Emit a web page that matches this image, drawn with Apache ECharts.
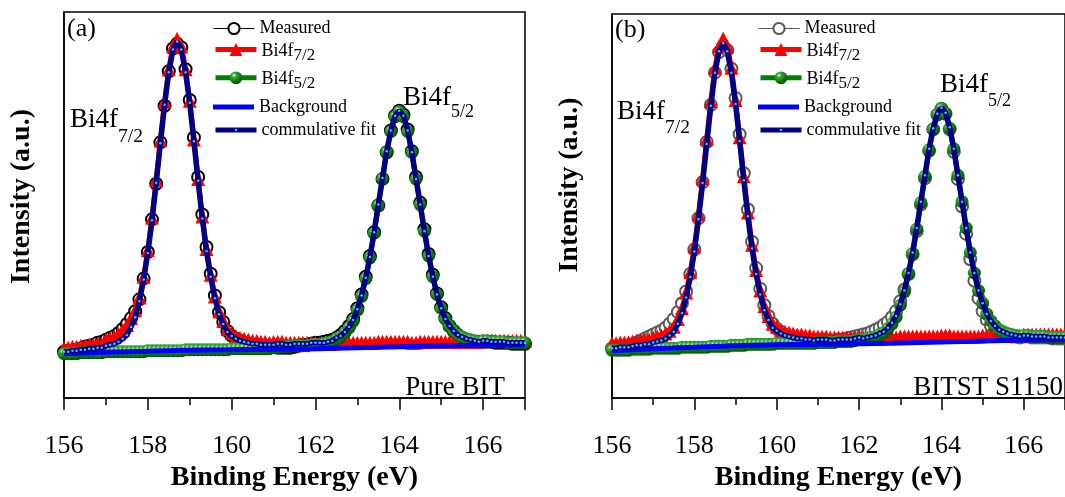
<!DOCTYPE html>
<html><head><meta charset="utf-8">
<script src="https://cdn.jsdelivr.net/npm/echarts@6/dist/echarts.min.js"></script>
<style>html,body{margin:0;padding:0;background:#fff}#c{width:1065px;height:497px}</style>
</head><body><div id="c"></div>
<script>
// ---------------- data ----------------
const energy = [156,156.1,156.2,156.3,156.4,156.5,156.6,156.7,156.8,156.9,
157,157.1,157.2,157.3,157.4,157.5,157.6,157.7,157.8,157.9,
158,158.1,158.2,158.3,158.4,158.5,158.6,158.7,158.8,158.9,
159,159.1,159.2,159.3,159.4,159.5,159.6,159.7,159.8,159.9,
160,160.1,160.2,160.3,160.4,160.5,160.6,160.7,160.8,160.9,
161,161.1,161.2,161.3,161.4,161.5,161.6,161.7,161.8,161.9,
162,162.1,162.2,162.3,162.4,162.5,162.6,162.7,162.8,162.9,
163,163.1,163.2,163.3,163.4,163.5,163.6,163.7,163.8,163.9,
164,164.1,164.2,164.3,164.4,164.5,164.6,164.7,164.8,164.9,
165,165.1,165.2,165.3,165.4,165.5,165.6,165.7,165.8,165.9,
166,166.1,166.2,166.3,166.4,166.5,166.6,166.7,166.8,166.9,167];

// Panel (a) Pure BIT
const measuredA = [47,48,48,49,50,52,53,54,56,57,
59,61,63,66,70,75,81,88,100,121,
148,181,217,259,296,331,354,359,355,333,
302,264,224,186,153,126,104,87,77,68,
63,60,58,56,55,54,54,53,53,53,
52,51,51,51,51,52,53,54,54,55,
56,56,57,58,59,61,64,68,73,80,
91,105,123,144,168,195,222,249,271,286,
291,287,272,250,224,198,171,146,125,106,
92,81,73,68,64,61,59,58,57,57,
57,57,57,56,56,56,56,55,55,55,55];
const bi72A = [51,51,52,52,53,53,54,54,55,55,
59,60,62,65,69,74,81,89,102,123,
150,183,221,261,300,333,356,364,356,333,
301,262,222,184,151,125,103,88,78,70,
66,63,61,60,59,58,58,57,57,56,
57,57,57,56,56,56,56,56,56,56,
56,55,55,55,55,56,56,56,56,56,
56,56,56,56,56,57,57,57,57,57,
57,57,57,56,56,57,57,57,57,57,
57,57,57,57,57,57,57,57,57,57,
58,58,58,58,58,58,58,58,58,58,58];
const bi52A = [45,45,45,45,46,46,46,46,46,46,
47,47,47,47,47,47,47,47,47,47,
48,48,48,48,48,48,48,48,48,49,
49,49,49,49,49,49,49,49,49,49,
50,50,50,50,50,50,50,50,50,50,
51,51,52,52,52,53,53,53,53,54,
54,54,55,56,57,60,62,66,71,78,
89,103,121,142,167,195,222,249,270,285,
290,285,270,249,222,196,169,144,123,105,
91,80,73,68,64,62,60,59,58,57,
58,58,57,57,57,57,56,56,56,56,56];
const fitA = [47,47,48,48,49,49,50,50,51,51,
53,54,55,57,60,64,72,82,98,120,
147,180,218,258,297,330,353,361,353,330,
299,260,220,182,149,123,101,85,75,67,
63,60,58,57,56,55,55,54,54,54,
54,55,55,54,54,55,55,55,55,56,
56,56,56,57,58,61,63,67,72,79,
90,104,122,143,168,196,223,250,271,286,
291,286,271,249,222,196,169,144,123,105,
91,80,73,68,64,62,60,59,58,57,
58,58,57,57,57,57,56,56,56,56,56];
const bgEnergy = [156,157,158,159,160,161,162,163,164,165,166,167];
const backgroundA = [45,46.5,47.5,48.5,49,49.5,50,51,52,53,53.5,54];

// Panel (b) BITST S1150
const measuredB = [51,52,52,53,54,55,57,59,61,63,
65,67,69,72,76,81,88,97,109,127,
152,184,221,262,300,333,354,360,356,337,
307,270,230,193,160,133,112,95,84,76,
71,68,65,63,62,61,60,60,59,59,
59,59,59,59,59,60,60,61,62,63,
64,65,66,68,70,72,75,78,83,89,
99,111,127,147,171,198,225,253,275,290,
296,291,275,252,224,196,168,142,120,102,
89,80,74,70,67,65,64,63,63,62,
63,63,62,62,62,62,62,61,61,61,61];
const bi72B = [56,56,57,57,57,58,59,59,60,60,
62,63,64,66,69,73,81,92,108,129,
155,188,225,265,304,338,360,368,360,338,
305,267,227,190,157,131,110,94,84,76,
73,70,68,67,66,65,65,64,64,63,
63,63,63,62,62,62,62,62,62,62,
63,62,62,62,62,62,62,62,62,62,
63,63,63,63,63,63,63,63,63,63,
64,64,64,63,63,63,63,63,63,63,
64,64,64,64,64,64,64,64,64,64,
65,65,65,65,65,65,65,65,65,65,65];
const bi52B = [49,49,49,49,49,50,50,50,50,50,
51,51,51,51,51,51,51,52,52,52,
52,52,52,52,53,53,53,53,53,54,
54,54,54,55,55,55,55,55,55,55,
56,56,56,56,56,56,56,56,56,56,
57,57,57,57,57,58,58,58,58,59,
60,60,61,62,63,65,67,71,76,83,
95,109,127,148,173,200,227,254,275,290,
296,291,276,255,228,201,174,149,128,110,
97,86,79,74,70,68,66,65,64,63,
64,64,63,63,63,63,62,62,62,62,62];
const fitB = [51,51,52,52,52,53,54,54,55,55,
57,58,59,61,64,68,76,87,103,124,
150,183,220,260,299,333,355,363,355,333,
301,263,223,186,153,127,106,90,80,72,
69,66,64,63,62,61,61,60,60,59,
60,60,60,59,59,60,60,60,60,61,
62,61,62,63,64,66,68,72,77,84,
96,110,128,149,174,201,228,255,276,291,
297,292,277,255,228,201,174,149,128,110,
97,86,79,74,70,68,66,65,64,63,
64,64,63,63,63,63,62,62,62,62,62];
const backgroundB = [48.5,50.5,52,53.5,54.5,55,55.5,56.5,57.5,58.5,59.5,60];

const majorTicks = [156,158,160,162,164,166];
const minorTicks = [157,159,161,163,165];
const seriesNames = ['Measured','Bi4f7/2','Bi4f5/2','Background','commulative fit'];
const sampleLabels = ['Pure BIT','BITST S1150'];
const panelLabels = ['(a)','(b)'];

// ---------------- chart ----------------
const SERIF = "'Times New Roman','Liberation Serif','DejaVu Serif',serif";
const chart = echarts.init(document.getElementById('c'), null, {renderer:'canvas'});

const pairs = arr => energy.map((e,i)=>[e, arr[i]]);
const bgPairs = arr => bgEnergy.map((e,i)=>[e, arr[i]]);

const sphere = new echarts.graphic.RadialGradient(0.35,0.3,0.7,[
  {offset:0,color:'#e8ffe8'},{offset:0.25,color:'#3aa83a'},{offset:0.7,color:'#0a7a0a'},{offset:1,color:'#005000'}]);

const panels = [
  {grid:{left:64,top:12,width:461,height:391}, ymax:391, meas:measuredA, r:bi72A, g:bi52A, fit:fitA, bg:backgroundA, mcolor:'#000', legLeft:213, namePad:17},
  {grid:{left:612,top:14,width:460,height:393}, ymax:393, meas:measuredB, r:bi72B, g:bi52B, fit:fitB, bg:backgroundB, mcolor:'#5a5a5a', legLeft:758, namePad:42}
];

const grids=[], xAxes=[], yAxes=[], series=[], legends=[];
panels.forEach((p,gi)=>{
  grids.push(Object.assign({show:true, borderColor:'#000', borderWidth:1.5, backgroundColor:'transparent'}, p.grid));
  xAxes.push({type:'value', gridIndex:gi, min:156, max:167, position:'bottom',
    axisLine:{show:true,onZero:false,lineStyle:{color:'#000',width:1.5}},
    axisTick:{show:true,inside:false,length:12,lineStyle:{color:'#000',width:1.5},customValues:majorTicks.concat([167])},
    axisLabel:{show:true,customValues:majorTicks,margin:35,fontSize:26,fontFamily:SERIF,color:'#000'},
    splitLine:{show:false},
    name:'Binding Energy (eV)', nameLocation:'middle', nameGap:65,
    nameTextStyle:{fontFamily:SERIF,fontSize:28,fontWeight:'bold',color:'#000'}});
  xAxes.push({type:'value', gridIndex:gi, min:156, max:167, position:'bottom',
    axisLine:{show:false},
    axisTick:{show:true,inside:false,length:7,lineStyle:{color:'#000',width:1.5},customValues:minorTicks},
    axisLabel:{show:false}, splitLine:{show:false}});
  yAxes.push({type:'value', gridIndex:gi, min:0, max:p.ymax,
    axisLine:{show:true,onZero:false,lineStyle:{color:'#000',width:1.5}},
    axisTick:{show:false}, axisLabel:{show:false}, splitLine:{show:false},
    name:'Intensity (a.u.)', nameLocation:'middle', nameGap:28,
    nameTextStyle:{fontFamily:SERIF,fontSize:28,fontWeight:'bold',color:'#000',padding:[0,0,0,p.namePad]}});
  const xi = gi*2;
  series.push({name:seriesNames[0], type:'line', xAxisIndex:xi, yAxisIndex:gi, data:pairs(p.meas),
    symbol:'emptyCircle', symbolSize:12, showAllSymbol:true, lineStyle:{color:p.mcolor,width:1},
    itemStyle:{color:p.mcolor,borderWidth:1.3}, z:2, animation:false});
  series.push({name:seriesNames[1], type:'line', xAxisIndex:xi, yAxisIndex:gi, data:pairs(p.r),
    symbol:'triangle', symbolSize:14, showAllSymbol:true, lineStyle:{color:'#ff0000',width:5},
    itemStyle:{color:'#ff0000'}, z:3, animation:false});
  series.push({name:seriesNames[2], type:'line', xAxisIndex:xi, yAxisIndex:gi, data:pairs(p.g),
    symbol:'circle', symbolSize:13, showAllSymbol:true, lineStyle:{color:'#008000',width:5},
    itemStyle:{color:sphere}, z:4, animation:false});
  series.push({name:seriesNames[3], type:'line', xAxisIndex:xi, yAxisIndex:gi, data:bgPairs(p.bg),
    smooth:true, symbol:'none', lineStyle:{color:'#0000ff',width:5}, itemStyle:{color:'#0000ff'}, z:5, animation:false});
  series.push({name:seriesNames[4], type:'line', xAxisIndex:xi, yAxisIndex:gi, data:pairs(p.fit),
    symbol:'circle', symbolSize:2.5, showAllSymbol:true, lineStyle:{color:'#000080',width:5.5},
    itemStyle:{color:'#3cc8ff'}, z:6, animation:false});

  const rows = [
    {name:seriesNames[0], c:27.5, h:14, off:8, lw:1},
    {name:seriesNames[1], c:50, h:16, off:7.7, lw:5},
    {name:seriesNames[2], c:78.3, h:16, off:7.7, lw:5},
    {name:seriesNames[3], c:106, h:5, off:8, icon:'rect'},
    {name:seriesNames[4], c:129, h:3, off:8, lw:5}
  ];
  rows.forEach(r=>{
    const item = {name:r.name};
    if (r.icon) item.icon = r.icon;
    if (r.lw) item.lineStyle = {width:r.lw};
    if (gi===1 && r.name==='Measured') { item.itemStyle={color:p.mcolor}; item.lineStyle={width:1,color:p.mcolor}; }
    legends.push({orient:'vertical', left:p.legLeft, top:r.c - r.off, padding:0, itemGap:0,
      itemWidth:41, itemHeight:r.h, selectedMode:false, data:[item],
      formatter: n => n==='Bi4f7/2' ? '{m|Bi4f}{s|7/2}' : n==='Bi4f5/2' ? '{m|Bi4f}{s|5/2}' : n,
      textStyle:{fontFamily:SERIF,fontSize:18,color:'#000',
        rich:{m:{fontFamily:SERIF,fontSize:18,color:'#000',verticalAlign:'top',padding:[7,0,0,0]},
              s:{fontFamily:SERIF,fontSize:17,color:'#000',verticalAlign:'top',padding:[11.4,0,0,0]}}}});
  });
});

function ann(x, top, main, sub, subSize, P){
  return {type:'text', x:x, y:top, z:100, style:{text:'{m|'+main+'}{s|'+sub+'}', align:'left', verticalAlign:'top', fill:'#000',
    rich:{m:{fontFamily:SERIF,fontSize:27,color:'#000',verticalAlign:'top'},
          s:{fontFamily:SERIF,fontSize:subSize,color:'#000',verticalAlign:'top',padding:[P,0,0,0]}}}};
}
const graphic = [
  {type:'text', x:67, y:29, z:100, style:{text:panelLabels[0], fontFamily:SERIF, fontSize:26, fill:'#000', align:'left', verticalAlign:'middle'}},
  {type:'text', x:615, y:30, z:100, style:{text:panelLabels[1], fontFamily:SERIF, fontSize:26, fill:'#000', align:'left', verticalAlign:'middle'}},
  {type:'text', x:505, y:388, z:100, style:{text:sampleLabels[0], fontFamily:SERIF, fontSize:27, fill:'#000', align:'right', verticalAlign:'middle'}},
  {type:'text', x:1063, y:388, z:100, style:{text:sampleLabels[1], fontFamily:SERIF, fontSize:27, fill:'#000', align:'right', verticalAlign:'middle'}},
  ann(70, 106, 'Bi4f', '7/2', 19.5, 21),
  ann(403, 84.5, 'Bi4f', '5/2', 18, 19.1),
  ann(617, 98, 'Bi4f', '7/2', 19.5, 19.5),
  ann(940, 71, 'Bi4f', '5/2', 18, 21.5)
];

chart.setOption({
  animation:false, backgroundColor:'#fff',
  grid:grids, xAxis:xAxes, yAxis:yAxes, series:series, legend:legends, graphic:graphic
});
</script></body></html>
